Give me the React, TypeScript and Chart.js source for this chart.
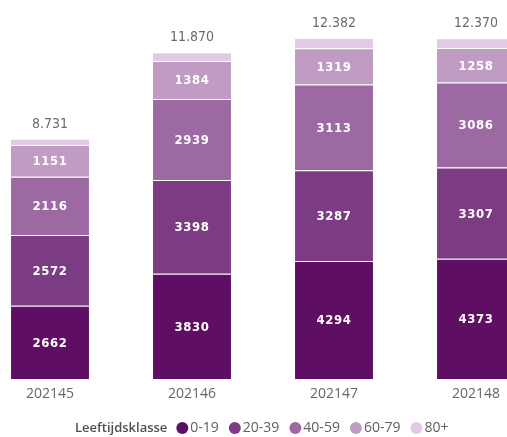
import React, { useEffect, useRef } from "react";
import { Chart, registerables } from "chart.js";

Chart.register(...registerables);

const categories = ["202145", "202146", "202147", "202148"];
const seriesLabels = ["0-19", "20-39", "40-59", "60-79", "80+"];
const age0to19 = [2662, 3830, 4294, 4373];
const age20to39 = [2572, 3398, 3287, 3307];
const age40to59 = [2116, 2939, 3113, 3086];
const age60to79 = [1151, 1384, 1319, 1258];
const age80plus = [230, 319, 369, 346];
const seriesColors = ["#5E0F63", "#7C3C83", "#9D69A3", "#C09BC4", "#E0CBE2"];
const legendTitle = "Leeftijdsklasse";

const seriesValues = [age0to19, age20to39, age40to59, age60to79, age80plus];

const fmt = (n: number) => n.toString().replace(/\B(?=(\d{3})+(?!\d))/g, ".");

const overlayPlugin = {
  id: "overlay",
  afterDatasetsDraw(chart: any) {
    const ctx = chart.ctx;
    ctx.save();
    ctx.font = "bold 13px 'DejaVu Sans Condensed', 'DejaVu Sans'";
    ctx.fillStyle = "#FFFFFF";
    ctx.textAlign = "center";
    ctx.textBaseline = "middle";
    try { (ctx as any).letterSpacing = "0.6px"; } catch (e) {}
    for (let d = 0; d < 4; d++) {
      const meta = chart.getDatasetMeta(d);
      meta.data.forEach((bar: any, i: number) => {
        const y = (bar.y + bar.base) / 2;
        ctx.fillText(String(chart.data.datasets[d].data[i]), bar.x, y + 1);
      });
    }
    try { (ctx as any).letterSpacing = "0px"; } catch (e) {}
    ctx.font = "14px 'DejaVu Sans Condensed', 'DejaVu Sans'";
    ctx.fillStyle = "#6A6A6A";
    ctx.textBaseline = "alphabetic";
    const last = chart.getDatasetMeta(chart.data.datasets.length - 1);
    last.data.forEach((bar: any, i: number) => {
      let total = 0;
      chart.data.datasets.forEach((ds: any) => (total += ds.data[i]));
      ctx.fillText(fmt(total), bar.x, bar.y - 11);
    });
    ctx.restore();
  },
  afterDraw(chart: any) {
    const ctx = chart.ctx;
    ctx.save();
    const offsetX = 40;
    const y = 428;
    let x = 75 + offsetX;
    ctx.textBaseline = "middle";
    ctx.textAlign = "left";
    ctx.font = "600 13px 'Open Sans'";
    ctx.fillStyle = "#505050";
    ctx.fillText(legendTitle, x, y);
    x += ctx.measureText(legendTitle).width + 9;
    ctx.font = "14px 'Open Sans'";
    chart.data.datasets.forEach((ds: any) => {
      ctx.fillStyle = ds.backgroundColor;
      ctx.beginPath();
      ctx.arc(x + 6, y, 6, 0, Math.PI * 2);
      ctx.fill();
      x += 14;
      ctx.fillStyle = "#606060";
      ctx.fillText(ds.label, x, y);
      x += ctx.measureText(ds.label).width + 10;
    });
    ctx.restore();
  },
};

export default function App() {
  const ref = useRef<HTMLCanvasElement>(null);
  useEffect(() => {
    if (!ref.current) return;
    const chart = new Chart(ref.current, {
      type: "bar",
      data: {
        labels: categories,
        datasets: seriesLabels.map((label, k) => ({
          label,
          data: seriesValues[k],
          backgroundColor: seriesColors[k],
          borderColor: "rgba(255,255,255,0.6)",
          borderWidth: { top: 1 },
          borderSkipped: false,
          barPercentage: 1,
          categoryPercentage: 0.549,
        })),
      },
      options: {
        responsive: false,
        animation: false,
        devicePixelRatio: 1,
        layout: { padding: { left: 19, right: 13, top: 21, bottom: 29 } },
        plugins: { legend: { display: false }, tooltip: { enabled: false } },
        scales: {
          x: {
            stacked: true,
            grid: { display: false, drawTicks: false },
            border: { display: false },
            ticks: { color: "#666666", font: { family: "'Open Sans'", size: 14 }, padding: 6 },
          },
          y: { stacked: true, display: false, min: 0, max: 13000 },
        },
      },
      plugins: [overlayPlugin],
    });
    return () => chart.destroy();
  }, []);
  return (
    <div style={{ position: "absolute", left: 0, top: 0, width: 507, height: 437, overflow: "hidden", background: "#fff" }}>
      <canvas ref={ref} width={600} height={437} style={{ position: "absolute", left: -40, top: 0 }} />
    </div>
  );
}
